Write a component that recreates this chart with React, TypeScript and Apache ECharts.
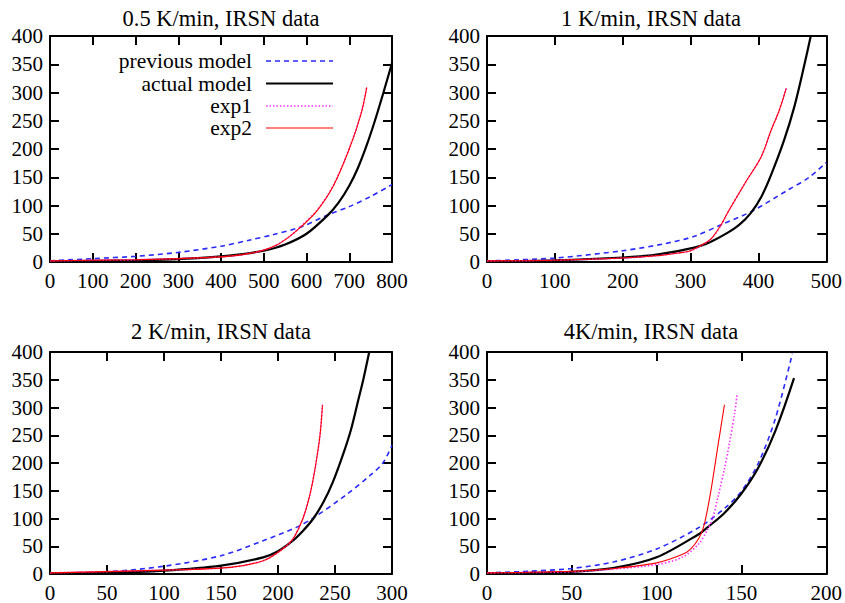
import React, { useEffect, useRef } from "react";
import * as echarts from "echarts";

type Pt = [number, number];

const panelTitles = [
  "0.5 K/min, IRSN data",
  "1 K/min, IRSN data",
  "2 K/min, IRSN data",
  "4K/min, IRSN data",
];
const xMaxima = [800, 500, 300, 200];
const xSteps = [100, 100, 50, 50];
const yMax = 400;
const yStep = 50;
const legendNames = ["previous model", "actual model", "exp1", "exp2"];

// Panel 1: 0.5 K/min
const prev1: Pt[] = [[0, 2], [100, 6], [200, 10], [300, 17], [400, 28], [468, 39], [520, 48], [587, 62], [649, 83], [700, 98], [750, 116], [800, 137]];
const actual1: Pt[] = [[0, 1], [100, 2], [200, 3], [300, 5], [400, 10], [450, 14], [500, 20], [550, 31], [600, 50], [650, 83], [675, 105], [700, 135], [720, 166], [740, 205], [760, 250], [780, 300], [800, 352]];
const exp1a: Pt[] = [[0, 2], [100, 3], [200, 4], [300, 6], [400, 9], [450, 13], [500, 21], [530, 30], [560, 45], [587, 63], [624, 91], [663, 136], [702, 205], [728, 264], [741, 310]];
const exp2a: Pt[] = [[0, 2], [100, 3], [200, 4], [300, 6], [400, 9], [450, 13], [500, 21], [530, 30], [560, 45], [587, 62], [624, 90], [663, 135], [702, 204], [728, 263], [741, 309]];

// Panel 2: 1 K/min
const prev2: Pt[] = [[0, 2], [100, 7], [200, 20], [260, 32], [307, 46], [345, 66], [389, 89], [443, 127], [475, 150], [500, 176]];
const actual2: Pt[] = [[0, 1], [100, 3], [200, 8], [250, 13], [307, 26], [330, 36], [355, 52], [372, 66], [389, 87], [405, 117], [419, 155], [438, 216], [453, 275], [467, 345], [479, 410]];
const exp1b: Pt[] = [[0, 2], [100, 3], [200, 7], [250, 11], [282, 16], [300, 20], [316, 29], [331, 42], [345, 65], [355, 88], [380, 139], [404, 186], [419, 234], [430, 266], [441, 308]];
const exp2b: Pt[] = [[0, 2], [100, 3], [200, 7], [250, 11], [282, 16], [300, 20], [316, 30], [331, 42], [345, 66], [355, 88], [380, 139], [404, 186], [419, 234], [430, 266], [441, 307]];

// Panel 3: 2 K/min
const prev3: Pt[] = [[0, 2], [50, 4], [100, 14], [150, 33], [187, 60], [216, 84], [231, 101], [260, 143], [281, 178], [292, 200], [300, 232]];
const actual3: Pt[] = [[0, 1], [50, 2], [100, 6], [150, 15], [187, 30], [200, 41], [213, 60], [222, 78], [231, 100], [240, 130], [248, 165], [257, 215], [264, 260], [270, 310], [275, 352], [280, 400]];
const exp1c: Pt[] = [[0, 2], [100, 7], [158, 12], [187, 24], [202, 42], [213, 63], [222, 101], [228, 143], [232.5, 190], [236.8, 249], [239, 305]];
const exp2c: Pt[] = [[0, 2], [100, 7], [158, 12], [187, 24], [202, 42], [213, 63], [222, 101], [228, 143], [232.5, 190], [236.8, 249], [239, 304]];

// Panel 4: 4 K/min
const prev4: Pt[] = [[0, 2], [25, 5], [50, 10], [75, 22], [100, 45], [125, 84], [140, 118], [150, 149], [160, 200], [170, 280], [180, 397]];
const actual4: Pt[] = [[0, 1], [25, 2], [50, 4], [75, 11], [100, 30], [125, 72], [130, 84], [140, 110], [150, 145], [160, 192], [170, 258], [181, 353]];
const exp1d: Pt[] = [[0, 2], [50, 4], [75, 9], [100, 17], [115, 30], [125, 55], [130, 80], [133, 100], [136, 137], [140, 190], [143, 237], [146, 290], [147.5, 324]];
const exp2d: Pt[] = [[0, 2], [50, 5], [75, 10], [100, 20], [115, 35], [120, 45], [125, 65], [128, 88], [132, 150], [136, 228], [140, 305]];

const panelData: Pt[][][] = [
  [prev1, actual1, exp1a, exp2a],
  [prev2, actual2, exp1b, exp2b],
  [prev3, actual3, exp1c, exp2c],
  [prev4, actual4, exp1d, exp2d],
];

const FONT = "'Liberation Serif', 'Times New Roman', serif";

const styles = [
  { color: "#2a2aff", width: 1.6, type: [5, 4] as any },
  { color: "#000000", width: 2.2, type: "solid" as any },
  { color: "#ff30ff", width: 1.6, type: [1.5, 2] as any },
  { color: "#ff0000", width: 1.1, type: "solid" as any },
];

const grids = [
  { left: 50, top: 36, width: 342, height: 226 },
  { left: 487, top: 36, width: 342, height: 226 },
  { left: 50, top: 352, width: 342, height: 225 },
  { left: 487, top: 352, width: 342, height: 225 },
];
const titlePos = [
  { x: 221, y: 7 },
  { x: 651, y: 7 },
  { x: 221, y: 320 },
  { x: 651, y: 320 },
];

export default function App() {
  const ref = useRef<HTMLDivElement>(null);
  useEffect(() => {
    if (!ref.current) return;
    const chart = echarts.init(ref.current, undefined, { renderer: "svg" });
    const axisLine = { show: true, onZero: false, lineStyle: { color: "#000", width: 2 } };
    const tick = { show: true, inside: true, length: 9, lineStyle: { color: "#000", width: 2 } };
    const xAxes: any[] = [];
    const yAxes: any[] = [];
    for (let side = 0; side < 2; side++) {
      for (let i = 0; i < 4; i++) {
        xAxes.push({
          type: "value",
          gridIndex: i,
          position: side === 0 ? "bottom" : "top",
          min: 0,
          max: xMaxima[i],
          interval: xSteps[i],
          axisLine,
          axisTick: tick,
          splitLine: { show: false },
          axisLabel: {
            show: side === 0,
            margin: 8,
            color: "#000",
            fontFamily: FONT,
            fontSize: 21,
            showMinLabel: true,
            showMaxLabel: true,
          },
        });
        yAxes.push({
          type: "value",
          gridIndex: i,
          position: side === 0 ? "left" : "right",
          min: 0,
          max: yMax,
          interval: yStep,
          axisLine,
          axisTick: tick,
          splitLine: { show: false },
          axisLabel: {
            show: side === 0,
            margin: 7,
            color: "#000",
            fontFamily: FONT,
            fontSize: 21,
            showMinLabel: true,
            showMaxLabel: true,
          },
        });
      }
    }
    const series: any[] = [];
    panelData.forEach((curves, i) => {
      curves.forEach((pts, k) => {
        series.push({
          type: "line",
          name: legendNames[k],
          xAxisIndex: i,
          yAxisIndex: i,
          data: pts,
          showSymbol: false,
          symbol: "none",
          smooth: 0.3,
          clip: true,
          lineStyle: { color: styles[k].color, width: styles[k].width, type: styles[k].type },
          z: 2 + k,
        });
      });
    });
    const legendRows = [61, 83.5, 106, 128];
    const graphic: any[] = [];
    legendRows.forEach((y, k) => {
      graphic.push({
        type: "text",
        x: 252,
        y,
        style: {
          text: legendNames[k],
          font: `21.5px ${FONT}`,
          lineHeight: 20,
          fill: "#000",
          textAlign: "right",
          textVerticalAlign: "middle",
        },
        z: 10,
      });
      graphic.push({
        type: "line",
        shape: { x1: 266, y1: y, x2: 333, y2: y },
        style: {
          stroke: styles[k].color,
          lineWidth: styles[k].width,
          lineDash: Array.isArray(styles[k].type) ? styles[k].type : null,
        },
        z: 10,
      });
    });
    chart.setOption({
      animation: false,
      backgroundColor: "#ffffff",
      title: panelTitles.map((t, i) => ({
        text: t,
        left: titlePos[i].x,
        top: titlePos[i].y,
        textAlign: "center",
        padding: 0,
        textStyle: { fontFamily: FONT, fontSize: 22.5, fontWeight: "normal", color: "#000" },
      })),
      grid: grids.map((g) => ({ ...g, containLabel: false })),
      xAxis: xAxes,
      yAxis: yAxes,
      series,
      graphic,
    });
    return () => chart.dispose();
  }, []);
  return (
    <div
      ref={ref}
      style={{ position: "absolute", left: 0, top: 0, width: 845, height: 603 }}
    />
  );
}
